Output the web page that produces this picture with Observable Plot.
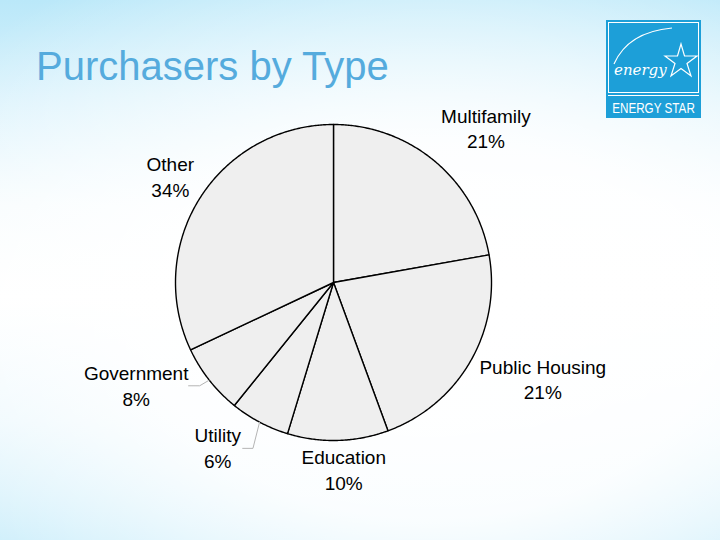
<!DOCTYPE html>
<html>
<head>
<meta charset="utf-8">
<script src="https://cdn.jsdelivr.net/npm/d3@7"></script>
<script src="https://cdn.jsdelivr.net/npm/@observablehq/plot@0.6"></script>
<style>
html, body { margin: 0; padding: 0; }
body {
  width: 720px; height: 540px; overflow: hidden; position: relative;
  font-family: "Liberation Sans", Arial, sans-serif;
  background:
    radial-gradient(ellipse 620px 420px at 430px 330px, rgba(255,255,255,1) 0%, rgba(255,255,255,0.9) 45%, rgba(255,255,255,0) 100%),
    linear-gradient(to bottom, #bae8f9 0%, #d9f2fc 18%, #f6fcfe 38%, #ffffff 55%, #e8f7fd 78%, #c3ebfa 100%);
}
#chart { position: absolute; left: 0; top: 0; }
#title {
  position: absolute; left: 36px; top: 46px; line-height: 40px;
  font-size: 40px; color: #55abdd; white-space: nowrap;
}
#logo { position: absolute; left: 606px; top: 20px; }
</style>
</head>
<body>
<div id="chart"></div>
<div id="title">Purchasers by Type</div>
<svg id="logo" width="95" height="98" viewBox="0 0 95 98">
  <rect x="0" y="0" width="95" height="98" fill="#1d9fd8"/>
  <rect x="2.5" y="2.5" width="90" height="70" fill="none" stroke="#ffffff" stroke-width="1"/>
  <path d="M8,44 Q22,12 66,8" fill="none" stroke="#ffffff" stroke-width="1.2"/>
  <text x="8" y="55" fill="#ffffff" font-family="DejaVu Serif, serif" font-style="italic" font-size="15">energy</text>
  <polygon points="75,24 78.5,36 91,36 81,43.5 85,56 75,48.5 65,56 69,43.5 59,36 71.5,36" fill="none" stroke="#ffffff" stroke-width="1.2"/>
  <line x1="2" y1="75.5" x2="93" y2="75.5" stroke="#ffffff" stroke-width="1"/>
  <g transform="translate(47.5,93) scale(0.78,1)">
    <text x="0" y="0" fill="#ffffff" text-anchor="middle" font-family="Liberation Sans, Arial, sans-serif" font-size="15">ENERGY STAR</text>
  </g>
</svg>
<script>
// ---- data ----
const categories = ["Multifamily", "Public Housing", "Education", "Utility", "Government", "Other"];
// slice sizes as drawn (percent of the circle)
const shares = [22.2, 22.2, 10.3, 6.1, 7.2, 32.0];
// percentages printed on the labels
const percentLabels = ["21%", "21%", "10%", "6%", "8%", "34%"];

// ---- layout (label placement relative to slice mid-angle) ----
const labelLayout = [
  {nudge: 4.8, r: 1.37},
  {nudge: -5, r: 1.46},
  {nudge: -1.5, r: 1.19},
  {nudge: 7, r: 1.28},
  {nudge: 10.5, r: 1.41},
  {nudge: 0.5, r: 1.23}
];
const labelLift = 0.009;
const leaderFor = {"Government": {r: 1.07, nudge: 0.5, tail: 0.07}, "Utility": {r: 1.167, nudge: -2, tail: 0.065}};

const total = d3.sum(shares);
const rad = d => d * Math.PI / 180;
let acc = 0;
const slices = categories.map((c, i) => {
  const a0 = acc / total * 360;
  acc += shares[i];
  const a1 = acc / total * 360;
  return {cat: c, a0, a1, mid: (a0 + a1) / 2, i};
});

// polygon points for each slice (angle measured clockwise from top)
const slicePts = [];
for (const s of slices) {
  slicePts.push({cat: s.cat, x: 0, y: 0});
  const n = Math.max(2, Math.ceil((s.a1 - s.a0) / 0.5));
  for (let k = 0; k <= n; k++) {
    const a = rad(s.a0 + (s.a1 - s.a0) * k / n);
    slicePts.push({cat: s.cat, x: Math.sin(a), y: Math.cos(a)});
  }
  slicePts.push({cat: s.cat, x: 0, y: 0});
}

const labels = slices.map(s => {
  const L = labelLayout[s.i];
  const a = rad(s.mid + L.nudge);
  return {x: L.r * Math.sin(a), y: L.r * Math.cos(a) + labelLift, text: s.cat + "\n" + percentLabels[s.i]};
});

const leaders = [];
for (const s of slices) {
  const L = leaderFor[s.cat];
  if (!L) continue;
  const a = rad(s.mid);
  const b = rad(s.mid + L.nudge);
  const ex = L.r * Math.sin(b), ey = L.r * Math.cos(b);
  leaders.push({cat: s.cat, x: Math.sin(a), y: Math.cos(a)});
  leaders.push({cat: s.cat, x: ex, y: ey});
  leaders.push({cat: s.cat, x: ex - L.tail, y: ey});
}

const chart = Plot.plot({
  width: 720,
  height: 540,
  marginLeft: 175,
  marginRight: 229,
  marginTop: 124,
  marginBottom: 100,
  x: {domain: [-1, 1], axis: null},
  y: {domain: [-1, 1], axis: null},
  style: {background: "transparent", overflow: "visible"},
  marks: [
    Plot.line(slicePts, {x: "x", y: "y", z: "cat", fill: "#efefef", stroke: "#000000", strokeWidth: 1.4, strokeLinejoin: "round"}),
    Plot.line(leaders, {x: "x", y: "y", z: "cat", stroke: "#b4b4b4", strokeWidth: 1}),
    Plot.text(labels, {x: "x", y: "y", text: "text", fontSize: 19, lineHeight: 1.35, fill: "#000000", textAnchor: "middle", lineAnchor: "middle", fontFamily: "Liberation Sans, Arial, sans-serif"})
  ]
});
document.getElementById("chart").appendChild(chart);
</script>
</body>
</html>
